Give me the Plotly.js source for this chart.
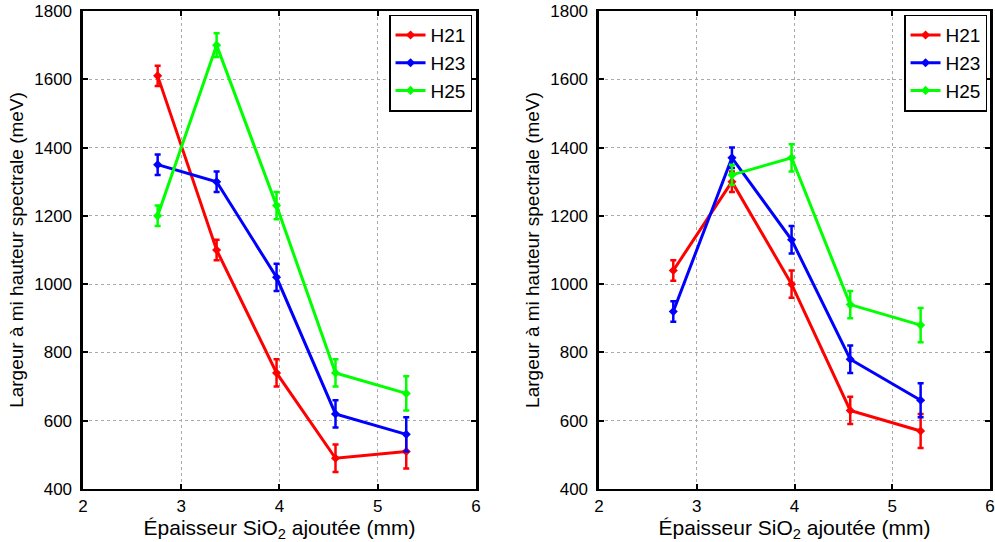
<!DOCTYPE html>
<html>
<head>
<meta charset="utf-8">
<script src="https://cdn.plot.ly/plotly-3.0.1.min.js"></script>
<style>html,body{margin:0;padding:0;background:#fff;}#chart{width:995px;height:542px;}</style>
</head>
<body>
<div id="chart"></div>
<script>
// Épaisseur SiO2 ajoutée (mm)
const thickness = [2.76, 3.36, 3.97, 4.57, 5.29];
const seriesNames = ['H21', 'H23', 'H25'];
const seriesColors = ['#ff0000', '#0000ff', '#00ff00'];

// Left panel values (meV) and error bars
const leftH21 = [1610, 1100, 740, 490, 510];
const leftH21Err = [30, 30, 40, 40, 50];
const leftH23 = [1350, 1300, 1020, 620, 560];
const leftH23Err = [30, 30, 40, 40, 50];
const leftH25 = [1200, 1700, 1230, 740, 680];
const leftH25Err = [30, 35, 40, 40, 50];

// Right panel values (meV) and error bars
const rightH21 = [1040, 1300, 1000, 630, 570];
const rightH21Err = [30, 30, 40, 40, 50];
const rightH23 = [920, 1370, 1130, 780, 660];
const rightH23Err = [30, 30, 40, 40, 50];
const rightThicknessH25 = [3.36, 3.97, 4.57, 5.29];
const rightH25 = [1320, 1370, 940, 880];
const rightH25Err = [30, 40, 40, 50];

const xTicks = [2, 3, 4, 5, 6];
const yTicks = [400, 600, 800, 1000, 1200, 1400, 1600, 1800];

const FONT = 'Liberation Sans, Arial, Helvetica, sans-serif';

function tr(x, y, err, i, xa, ya, leg) {
  return {
    x: x, y: y, name: seriesNames[i], type: 'scatter', mode: 'lines+markers',
    xaxis: xa, yaxis: ya, legend: leg,
    line: {color: seriesColors[i], width: 3},
    marker: {symbol: 'diamond', size: 7, color: seriesColors[i]},
    error_y: {type: 'data', array: err, visible: true, color: seriesColors[i], thickness: 2.5, width: 3}
  };
}

const data = [
  tr(thickness, leftH21, leftH21Err, 0, 'x', 'y', 'legend'),
  tr(thickness, leftH23, leftH23Err, 1, 'x', 'y', 'legend'),
  tr(thickness, leftH25, leftH25Err, 2, 'x', 'y', 'legend'),
  tr(thickness, rightH21, rightH21Err, 0, 'x2', 'y2', 'legend2'),
  tr(thickness, rightH23, rightH23Err, 1, 'x2', 'y2', 'legend2'),
  tr(rightThicknessH25, rightH25, rightH25Err, 2, 'x2', 'y2', 'legend2')
];

function xax(dom, anchor) {
  return {
    domain: dom, anchor: anchor, range: [2, 6], tickvals: xTicks, ticktext: xTicks.map(String),
    showline: true, linecolor: '#000', linewidth: 2.5, mirror: 'allticks',
    ticks: 'inside', ticklen: 5, tickwidth: 2, tickcolor: '#000',
    showgrid: true, gridcolor: '#aaaaaa', griddash: 'dot', gridwidth: 1, zeroline: false,
    tickfont: {family: FONT, size: 17, color: '#000'}, ticklabelstandoff: 0,
    title: {text: 'Épaisseur SiO<sub>2</sub> ajoutée (mm)', font: {family: FONT, size: 21, color: '#000'}, standoff: 3}
  };
}
function yax(dom, anchor) {
  return {
    domain: dom, anchor: anchor, range: [400, 1800], tickvals: yTicks, ticktext: yTicks.map(String),
    showline: true, linecolor: '#000', linewidth: 2.5, mirror: 'allticks',
    ticks: 'inside', ticklen: 5, tickwidth: 2, tickcolor: '#000',
    showgrid: true, gridcolor: '#aaaaaa', griddash: 'dot', gridwidth: 1, zeroline: false,
    tickfont: {family: FONT, size: 17, color: '#000'}, ticklabelstandoff: 5,
    title: {text: 'Largeur à mi hauteur spectrale (meV)', font: {family: FONT, size: 19, color: '#000'}, standoff: 6}
  };
}

const legStyle = {
  bgcolor: '#fff', bordercolor: '#000', borderwidth: 1.5,
  font: {family: FONT, size: 19, color: '#000'},
  xanchor: 'right', yanchor: 'top', tracegroupgap: 0, itemwidth: 30
};

const layout = {
  width: 995, height: 542,
  margin: {l: 0, r: 0, t: 0, b: 0},
  paper_bgcolor: '#fff', plot_bgcolor: '#fff',
  showlegend: true,
  xaxis: xax([0.0834, 0.4784], 'y'),
  yaxis: yax([0.0978, 0.9797], 'x'),
  xaxis2: xax([0.602, 0.995], 'y2'),
  yaxis2: yax([0.0978, 0.9797], 'x2'),
  legend: Object.assign({x: 0.4744, y: 0.973}, legStyle),
  legend2: Object.assign({x: 0.992, y: 0.973}, legStyle)
};

Plotly.newPlot('chart', data, layout, {staticPlot: true});
</script>
</body>
</html>
